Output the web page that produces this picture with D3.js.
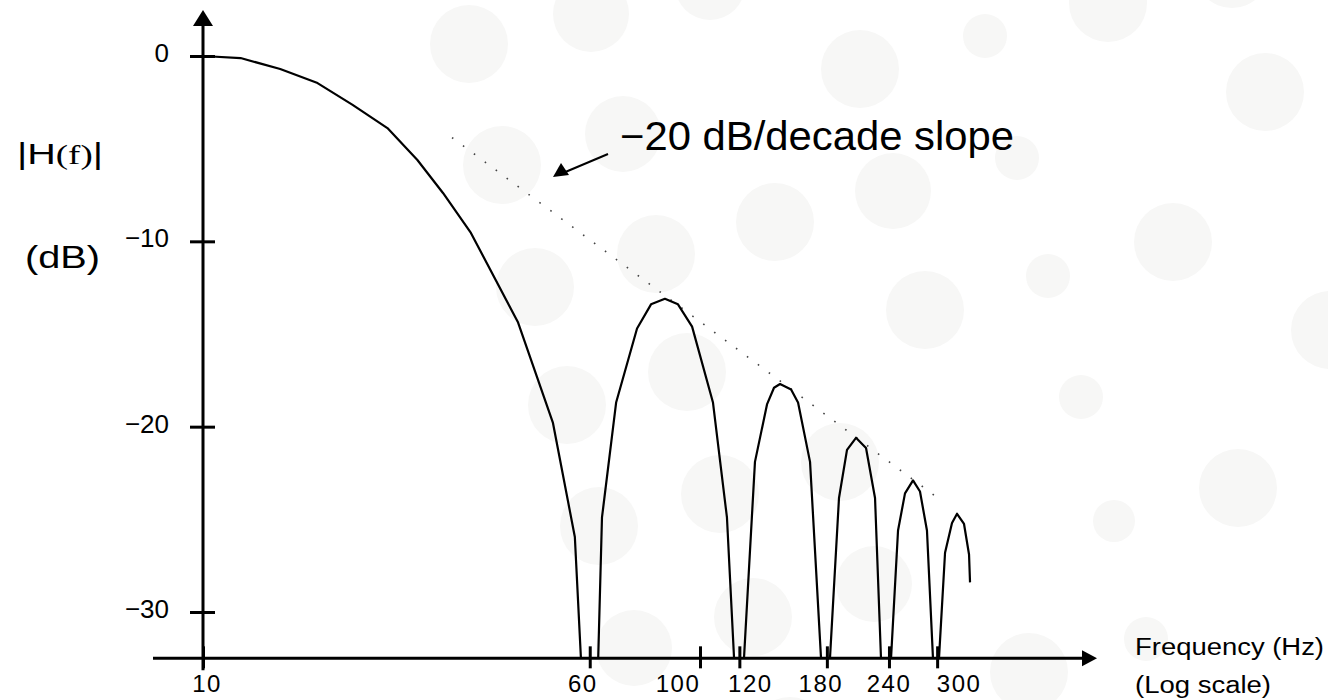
<!DOCTYPE html>
<html>
<head>
<meta charset="utf-8">
<script src="https://cdn.jsdelivr.net/npm/d3@7"></script>
<style>
  html, body { margin: 0; padding: 0; background: #fff; }
  svg { display: block; }
  text { font-family: "Liberation Sans", Arial, Helvetica, sans-serif; fill: #000; }
</style>
</head>
<body>
<script>
// Magnitude response, lobe by lobe (null = break at a notch)
const freqHz = [
  10, 11.9, 14.3, 17.0, 20.0, 23.5, 27.0, 30.4, 34.6, 43.0, 50.6, 56.0, 57.6, null,
  62.4, 63.5, 67.8, 74.7, 79.7, 85.0, 90.3, 96.4, 106.2, 113.3, 117.1, null,
  122.6, 129.0, 136.4, 140.9, 144.9, 152.5, 157.5, 166.5, 175.2, null,
  182.6, 190.4, 197.6, 206.0, 215.8, 225.0, 231.3, null,
  242.3, 250.3, 258.5, 268.3, 277.1, 286.2, 294.3, null,
  302.6, 311.2, 321.4, 329.0, 339.8, 347.8, 349.4
];
const gainDb = [
  0, -0.11, -0.70, -1.46, -2.64, -3.89, -5.61, -7.39, -9.55, -14.35, -19.8, -25.95, -32.5, null,
  -32.5, -24.9, -18.7, -14.7, -13.4, -13.1, -13.4, -14.6, -18.7, -24.9, -32.5, null,
  -32.5, -21.9, -18.8, -17.9, -17.7, -18.0, -18.7, -21.9, -32.5, null,
  -32.5, -23.85, -21.25, -20.6, -21.15, -23.85, -32.5, null,
  -32.5, -25.6, -23.6, -22.9, -23.5, -25.6, -32.5, null,
  -32.5, -26.8, -25.2, -24.7, -25.25, -26.9, -28.4
];

// -20 dB/decade envelope
const slopeHz = [31.7, 301];
const slopeDb = [-4.4, -23.85];

const xTicks = [10, 60, 100, 120, 180, 240, 300];
const xTickLabels = ['10', '60', '100', '120', '180', '240', '300'];
const yTicks = [0, -10, -20, -30];
const yTickLabels = ['0', '\u221210', '\u221220', '\u221230'];
const floorDb = -32.5;

// faint background dots of the slide [cx, cy, r]
const backdrop = [
  [469, 44, 39], [591, 14, 38], [710, -15, 35], [860, 69, 39], [502, 165, 39],
  [623, 134, 38], [775, 222, 39], [893, 191, 38], [535, 287, 39], [656, 254, 39],
  [687, 372, 39], [985, 36, 22], [1108, 3, 39], [1232, -29, 37], [1265, 92, 39],
  [1017, 158, 22], [1173, 242, 39], [1048, 276, 22], [925, 310, 39], [1330, 330, 39],
  [567, 405, 39], [720, 494, 39], [599, 526, 39], [840, 462, 39], [874, 584, 38],
  [753, 617, 39], [634, 648, 38], [790, 736, 39], [1081, 397, 22], [1238, 488, 39],
  [1114, 521, 21], [1146, 639, 22], [1029, 672, 39]
];

const width = 1328;
const height = 700;

const svg = d3.select('body')
  .append('svg')
    .attr('width', width)
    .attr('height', height);

// background
svg.append('g')
  .selectAll('circle')
  .data(backdrop)
  .join('circle')
    .attr('cx', d => d[0])
    .attr('cy', d => d[1])
    .attr('r', d => d[2])
    .attr('fill', '#f7f7f6');

// scales
const x = d3.scaleLog().domain([10, 100]).range([203, 700]);
const y = d3.scaleLinear().domain([0, -30]).range([56, 612]);

const axisX = x(10);
const axisY = y(floorDb);

// x axis ticks (crossing the axis line)
const gx = svg.append('g')
  .attr('transform', `translate(0, ${axisY})`)
  .call(d3.axisBottom(x).tickValues(xTicks).tickSize(10).tickFormat(''));
gx.select('.domain').remove();
gx.selectAll('.tick line')
  .attr('y1', -12)
  .attr('stroke', '#000')
  .attr('stroke-width', 3);

// y axis ticks
const gy = svg.append('g')
  .attr('transform', `translate(${axisX}, 0)`)
  .call(d3.axisLeft(y).tickValues(yTicks).tickSize(13).tickFormat(''));
gy.select('.domain').remove();
gy.selectAll('.tick line')
  .attr('x1', 12)
  .attr('stroke', '#000')
  .attr('stroke-width', 3);

// axis lines with arrows
const yTop = y(0) - 46;
svg.append('line')
  .attr('x1', axisX).attr('x2', axisX)
  .attr('y1', axisY + 12).attr('y2', yTop + 14)
  .attr('stroke', '#000').attr('stroke-width', 3);
svg.append('path')
  .attr('d', `M${axisX},${yTop} L${axisX - 10},${yTop + 16} L${axisX + 10},${yTop + 16} Z`)
  .attr('fill', '#000');

const xEnd = 1097;
svg.append('line')
  .attr('x1', axisX - 50).attr('x2', xEnd - 12)
  .attr('y1', axisY).attr('y2', axisY)
  .attr('stroke', '#000').attr('stroke-width', 3);
svg.append('path')
  .attr('d', `M${xEnd},${axisY} L${xEnd - 15},${axisY - 8} L${xEnd - 15},${axisY + 8} Z`)
  .attr('fill', '#000');

// tick labels; the slide nudges some of them sideways so they do not collide
const labelNudge = [4, -7, -22, 11, -6, 0, 22];
svg.append('g')
  .selectAll('text')
  .data(xTicks)
  .join('text')
    .attr('x', (d, i) => x(d) + labelNudge[i])
    .attr('y', axisY + 34)
    .attr('text-anchor', 'middle')
    .attr('font-size', 24)
    .attr('letter-spacing', 1.5)
    .text((d, i) => xTickLabels[i]);

svg.append('g')
  .selectAll('text')
  .data(yTicks)
  .join('text')
    .attr('x', axisX - 34)
    .attr('y', d => y(d) + 6)
    .attr('text-anchor', 'end')
    .attr('font-size', 26)
    .text((d, i) => yTickLabels[i]);

// envelope (dotted)
const slopeLine = d3.line()
  .x(d => x(d[0]))
  .y(d => y(d[1]));
svg.append('path')
  .datum(slopeHz.map((f, i) => [f, slopeDb[i]]))
  .attr('d', slopeLine)
  .attr('fill', 'none')
  .attr('stroke', '#444')
  .attr('stroke-width', 1.6)
  .attr('stroke-dasharray', '1.6 12');

// response curve
const curve = d3.line()
  .defined(d => d[0] !== null)
  .x(d => x(d[0]))
  .y(d => y(d[1]));
svg.append('path')
  .datum(freqHz.map((f, i) => [f, gainDb[i]]))
  .attr('d', curve)
  .attr('fill', 'none')
  .attr('stroke', '#000')
  .attr('stroke-width', 2.2)
  .attr('stroke-linejoin', 'round');

// annotation
svg.append('text')
  .attr('x', 620)
  .attr('y', 150)
  .attr('font-size', 40)
  .attr('textLength', 394)
  .attr('lengthAdjust', 'spacingAndGlyphs')
  .text('\u221220 dB/decade slope');

const tip = [553, 177];
svg.append('line')
  .attr('x1', 608).attr('y1', 154)
  .attr('x2', tip[0] + 10).attr('y2', tip[1] - 4)
  .attr('stroke', '#000').attr('stroke-width', 2);
svg.append('path')
  .attr('d', `M${tip[0]},${tip[1]} L${tip[0] + 8},${tip[1] - 14} L${tip[0] + 16},${tip[1] - 2} Z`)
  .attr('fill', '#000');

// axis titles
const hLabel = svg.append('text')
  .attr('x', 17)
  .attr('y', 164)
  .attr('font-size', 30)
  .attr('textLength', 86)
  .attr('lengthAdjust', 'spacingAndGlyphs');
hLabel.append('tspan').text('|H');
hLabel.append('tspan')
  .attr('font-family', '"Liberation Serif", "Times New Roman", serif')
  .attr('font-size', 28)
  .text('(f)');
hLabel.append('tspan').text('|');

svg.append('text')
  .attr('x', 25)
  .attr('y', 268)
  .attr('font-size', 31)
  .attr('textLength', 75)
  .attr('lengthAdjust', 'spacingAndGlyphs')
  .text('(dB)');

svg.append('text')
  .attr('x', 1135)
  .attr('y', 655)
  .attr('font-size', 23)
  .attr('textLength', 189)
  .attr('lengthAdjust', 'spacingAndGlyphs')
  .text('Frequency (Hz)');

svg.append('text')
  .attr('x', 1135)
  .attr('y', 693)
  .attr('font-size', 23)
  .attr('textLength', 136)
  .attr('lengthAdjust', 'spacingAndGlyphs')
  .text('(Log scale)');
</script>
</body>
</html>
